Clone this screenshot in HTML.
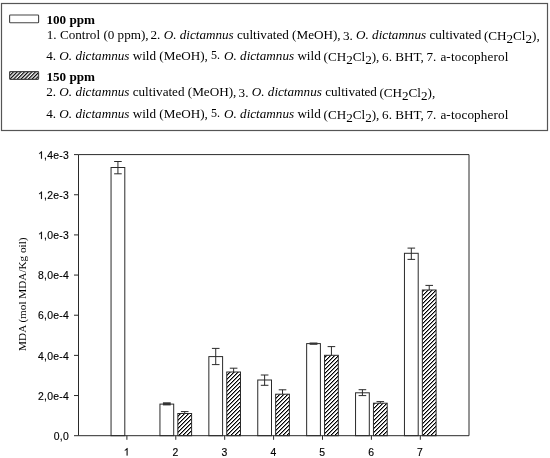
<!DOCTYPE html>
<html><head><meta charset="utf-8"><style>
html,body{margin:0;padding:0;background:#fff;}
body{width:550px;height:458px;overflow:hidden;}
svg{display:block;filter:grayscale(1);}
.tk{font-family:"Liberation Sans",sans-serif;font-size:10.4px;fill:#000;letter-spacing:0.25px;stroke:#000;stroke-width:0.15px;}
.lg{font-family:"Liberation Serif",serif;font-size:13.15px;fill:#000;}
.b{font-weight:bold;}
.h1{fill:none;stroke:none;}
.it{font-style:italic;}
.sb{font-size:13.15px;}
.ax{font-family:"Liberation Serif",serif;font-size:11.2px;fill:#000;}
</style></head><body>
<svg width="550" height="458" viewBox="0 0 550 458">
<defs>
<pattern id="hatch" patternUnits="userSpaceOnUse" x="0" y="2" width="4" height="4"><rect width="4" height="4" fill="#fff"/><rect x="3" y="0" width="1" height="1" fill="#000"/><rect x="0" y="0" width="1" height="1" fill="#888"/><rect x="2" y="1" width="1" height="1" fill="#000"/><rect x="3" y="1" width="1" height="1" fill="#888"/><rect x="1" y="2" width="1" height="1" fill="#000"/><rect x="2" y="2" width="1" height="1" fill="#888"/><rect x="0" y="3" width="1" height="1" fill="#000"/><rect x="1" y="3" width="1" height="1" fill="#888"/></pattern>
<pattern id="hatch2" patternUnits="userSpaceOnUse" width="2.6" height="2.6" patternTransform="rotate(45)">
<rect width="2.6" height="2.6" fill="#fff"/><rect width="1.2" height="2.6" fill="#000"/>
</pattern>
</defs>
<rect width="550" height="458" fill="#fff"/>

<rect x="1.5" y="3.5" width="546" height="127" fill="none" stroke="#555" stroke-width="1.2"/>
<rect x="9.6" y="15" width="29" height="7.8" rx="0.8" fill="#fff" stroke="#444" stroke-width="1.1"/>
<rect x="9.6" y="71.6" width="29" height="7.8" rx="0.8" fill="url(#hatch2)" stroke="#444" stroke-width="1.1"/>
<text x="46.4" y="23.7" class="lg b">100 ppm</text>
<text class="lg"><tspan x="46.8" y="39">1. Control (0 ppm), </tspan><tspan x="150.5" y="39">2. <tspan class="it">O. dictamnus</tspan> cultivated (MeOH), </tspan><tspan x="342.9" y="40.4">3.</tspan><tspan y="39"> <tspan class="it">O. dictamnus</tspan> cultivated </tspan><tspan x="483.9" y="39.8">(CH</tspan><tspan y="43.099999999999994">2</tspan><tspan y="39.8">Cl</tspan><tspan y="43.099999999999994">2</tspan><tspan y="39.8">),</tspan></text>
<text class="lg"><tspan x="46.2" y="59.5">4. <tspan class="it">O. dictamnus</tspan> wild (MeOH), </tspan><tspan x="210.9" y="58.7" style="font-size:12px">5.</tspan><tspan x="224.0" y="59.5"><tspan class="it">O. dictamnus</tspan> wild </tspan><tspan x="323.5" y="60.5">(CH</tspan><tspan y="63.8">2</tspan><tspan y="60.5">Cl</tspan><tspan y="63.8">2</tspan><tspan y="60.5">),</tspan><tspan x="382.1" y="60.5">6. BHT,</tspan><tspan x="426.4" y="60.5">7.</tspan><tspan x="440.4" y="60.5" style="letter-spacing:0.15px">a-tocopherol</tspan></text>
<text x="46.4" y="81" class="lg b">150 ppm</text>
<text class="lg"><tspan x="46.2" y="96">2. <tspan class="it">O. dictamnus</tspan> cultivated (MeOH), </tspan><tspan x="238.6" y="96.9">3.</tspan><tspan y="96"> <tspan class="it">O. dictamnus</tspan> cultivated </tspan><tspan x="379.4" y="97">(CH</tspan><tspan y="100.3">2</tspan><tspan y="97">Cl</tspan><tspan y="100.3">2</tspan><tspan y="97">),</tspan></text>
<text class="lg"><tspan x="46.2" y="117.8">4. <tspan class="it">O. dictamnus</tspan> wild (MeOH), </tspan><tspan x="210.9" y="117.0" style="font-size:12px">5.</tspan><tspan x="224.0" y="117.8"><tspan class="it">O. dictamnus</tspan> wild </tspan><tspan x="323.5" y="118.8">(CH</tspan><tspan y="122.1">2</tspan><tspan y="118.8">Cl</tspan><tspan y="122.1">2</tspan><tspan y="118.8">),</tspan><tspan x="382.1" y="118.8">6. BHT,</tspan><tspan x="426.4" y="118.8">7.</tspan><tspan x="440.4" y="118.8" style="letter-spacing:0.15px">a-tocopherol</tspan></text>

<rect x="111.05" y="167.50" width="13.75" height="268.20" fill="#fff" stroke="#2a2a2a" stroke-width="1"/><path d="M117.93 161.50V173.80M114.13 161.50H121.73M114.13 173.80H121.73" stroke="#2a2a2a" stroke-width="1" fill="none"/><rect x="159.95" y="404.10" width="13.75" height="31.60" fill="#fff" stroke="#2a2a2a" stroke-width="1"/><rect x="162.93" y="402.30" width="7.8" height="3.10" fill="#333"/><path d="M184.73 411.60V415.40M180.93 411.60H188.53M180.93 415.40H188.53" stroke="#2a2a2a" stroke-width="1" fill="none"/><rect x="177.85" y="413.50" width="13.75" height="22.20" fill="url(#hatch)" stroke="#2a2a2a" stroke-width="1"/><rect x="208.85" y="356.60" width="13.75" height="79.10" fill="#fff" stroke="#2a2a2a" stroke-width="1"/><path d="M215.72 348.40V364.60M211.92 348.40H219.53M211.92 364.60H219.53" stroke="#2a2a2a" stroke-width="1" fill="none"/><path d="M233.62 368.20V375.80M229.82 368.20H237.43M229.82 375.80H237.43" stroke="#2a2a2a" stroke-width="1" fill="none"/><rect x="226.75" y="372.00" width="13.75" height="63.70" fill="url(#hatch)" stroke="#2a2a2a" stroke-width="1"/><rect x="257.75" y="380.00" width="13.75" height="55.70" fill="#fff" stroke="#2a2a2a" stroke-width="1"/><path d="M264.62 375.00V385.30M260.82 375.00H268.43M260.82 385.30H268.43" stroke="#2a2a2a" stroke-width="1" fill="none"/><path d="M282.53 389.80V398.60M278.73 389.80H286.33M278.73 398.60H286.33" stroke="#2a2a2a" stroke-width="1" fill="none"/><rect x="275.65" y="394.20" width="13.75" height="41.50" fill="url(#hatch)" stroke="#2a2a2a" stroke-width="1"/><rect x="306.65" y="343.60" width="13.75" height="92.10" fill="#fff" stroke="#2a2a2a" stroke-width="1"/><rect x="309.62" y="342.50" width="7.8" height="2.30" fill="#333"/><path d="M331.43 346.60V364.00M327.62 346.60H335.23M327.62 364.00H335.23" stroke="#2a2a2a" stroke-width="1" fill="none"/><rect x="324.55" y="355.30" width="13.75" height="80.40" fill="url(#hatch)" stroke="#2a2a2a" stroke-width="1"/><rect x="355.55" y="392.80" width="13.75" height="42.90" fill="#fff" stroke="#2a2a2a" stroke-width="1"/><path d="M362.42 389.70V395.60M358.62 389.70H366.22M358.62 395.60H366.22" stroke="#2a2a2a" stroke-width="1" fill="none"/><path d="M380.32 401.60V404.80M376.52 401.60H384.12M376.52 404.80H384.12" stroke="#2a2a2a" stroke-width="1" fill="none"/><rect x="373.45" y="403.20" width="13.75" height="32.50" fill="url(#hatch)" stroke="#2a2a2a" stroke-width="1"/><rect x="404.45" y="253.30" width="13.75" height="182.40" fill="#fff" stroke="#2a2a2a" stroke-width="1"/><path d="M411.32 248.10V259.40M407.52 248.10H415.12M407.52 259.40H415.12" stroke="#2a2a2a" stroke-width="1" fill="none"/><path d="M429.23 285.40V294.60M425.43 285.40H433.03M425.43 294.60H433.03" stroke="#2a2a2a" stroke-width="1" fill="none"/><rect x="422.35" y="290.00" width="13.75" height="145.70" fill="url(#hatch)" stroke="#2a2a2a" stroke-width="1"/>
<path d="M78.5 154.6V435.7H469V154.6H78.5" fill="none" stroke="#2a2a2a" stroke-width="1"/>
<path d="M74 435.70H78.5" stroke="#2a2a2a" stroke-width="1"/><text x="69.0" y="439.90" text-anchor="end" class="tk">0,0</text><path d="M74 395.54H78.5" stroke="#2a2a2a" stroke-width="1"/><text x="69.0" y="399.74" text-anchor="end" class="tk">2,0e-4</text><path d="M74 355.39H78.5" stroke="#2a2a2a" stroke-width="1"/><text x="69.0" y="359.59" text-anchor="end" class="tk">4,0e-4</text><path d="M74 315.23H78.5" stroke="#2a2a2a" stroke-width="1"/><text x="69.0" y="319.43" text-anchor="end" class="tk">6,0e-4</text><path d="M74 275.07H78.5" stroke="#2a2a2a" stroke-width="1"/><text x="69.0" y="279.27" text-anchor="end" class="tk">8,0e-4</text><path d="M74 234.91H78.5" stroke="#2a2a2a" stroke-width="1"/><text x="69.0" y="239.11" text-anchor="end" class="tk"><tspan class="h1">1</tspan>,0e-3</text><path d="M74 194.76H78.5" stroke="#2a2a2a" stroke-width="1"/><text x="69.0" y="198.96" text-anchor="end" class="tk"><tspan class="h1">1</tspan>,2e-3</text><path d="M74 154.60H78.5" stroke="#2a2a2a" stroke-width="1"/><text x="69.0" y="158.80" text-anchor="end" class="tk"><tspan class="h1">1</tspan>,4e-3</text>
<path d="M126.90 435.7V439.8" stroke="#2a2a2a" stroke-width="1"/><text x="126.70" y="455.5" text-anchor="middle" class="tk"><tspan class="h1">1</tspan></text><path d="M175.80 435.7V439.8" stroke="#2a2a2a" stroke-width="1"/><text x="175.60" y="455.5" text-anchor="middle" class="tk">2</text><path d="M224.70 435.7V439.8" stroke="#2a2a2a" stroke-width="1"/><text x="224.50" y="455.5" text-anchor="middle" class="tk">3</text><path d="M273.60 435.7V439.8" stroke="#2a2a2a" stroke-width="1"/><text x="273.40" y="455.5" text-anchor="middle" class="tk">4</text><path d="M322.50 435.7V439.8" stroke="#2a2a2a" stroke-width="1"/><text x="322.30" y="455.5" text-anchor="middle" class="tk">5</text><path d="M371.40 435.7V439.8" stroke="#2a2a2a" stroke-width="1"/><text x="371.20" y="455.5" text-anchor="middle" class="tk">6</text><path d="M420.30 435.7V439.8" stroke="#2a2a2a" stroke-width="1"/><text x="420.10" y="455.5" text-anchor="middle" class="tk">7</text>
<path transform="translate(38.03 239.11) scale(0.005078 -0.005078)" d="M763 0H583V1147Q518 1085 412 1023T221 930V1104Q371 1174 484 1274T644 1468H763V0Z" fill="#000" stroke="#000" stroke-width="29.5"/><path transform="translate(38.03 198.96) scale(0.005078 -0.005078)" d="M763 0H583V1147Q518 1085 412 1023T221 930V1104Q371 1174 484 1274T644 1468H763V0Z" fill="#000" stroke="#000" stroke-width="29.5"/><path transform="translate(38.03 158.8) scale(0.005078 -0.005078)" d="M763 0H583V1147Q518 1085 412 1023T221 930V1104Q371 1174 484 1274T644 1468H763V0Z" fill="#000" stroke="#000" stroke-width="29.5"/><path transform="translate(123.68 455.5) scale(0.005078 -0.005078)" d="M763 0H583V1147Q518 1085 412 1023T221 930V1104Q371 1174 484 1274T644 1468H763V0Z" fill="#000" stroke="#000" stroke-width="29.5"/>
<text class="ax" transform="translate(26.4 350.9) rotate(-90)">MDA (mol MDA/Kg oil)</text>
</svg>
</body></html>
